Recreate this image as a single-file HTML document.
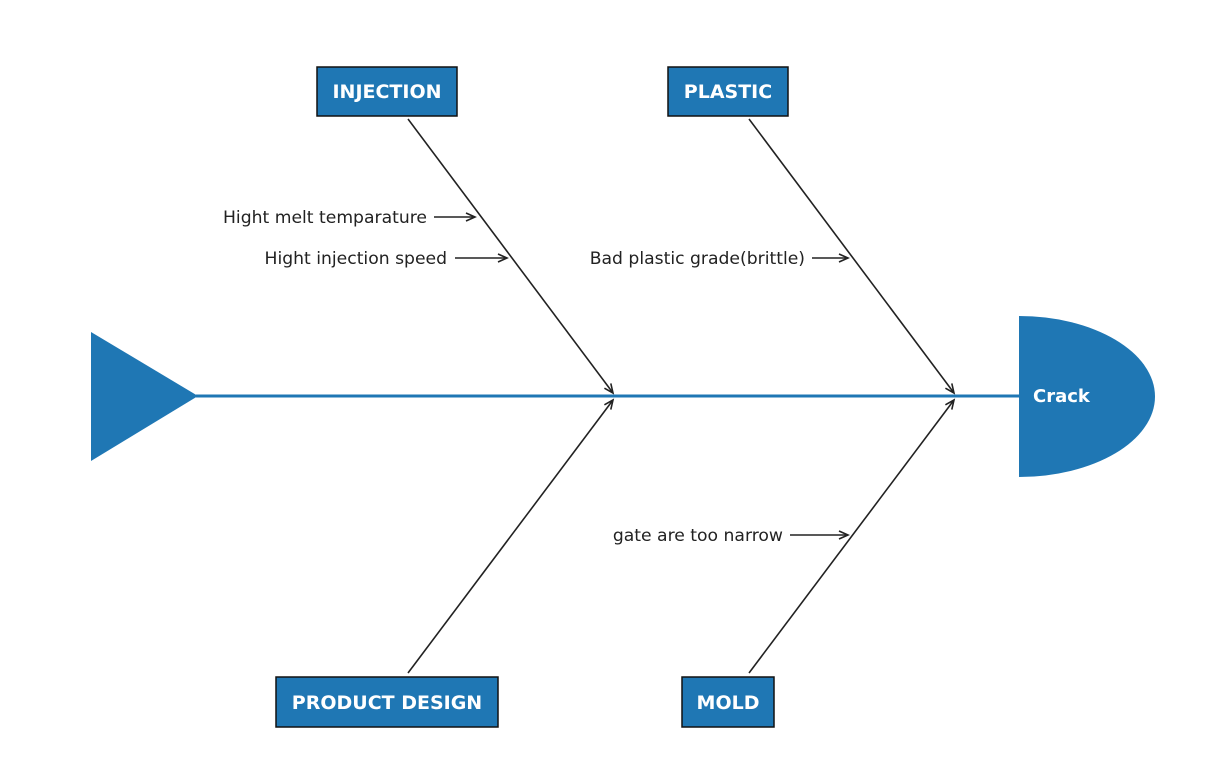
<!DOCTYPE html>
<html><head><meta charset="utf-8"><style>
html,body{margin:0;padding:0;background:#fff;width:1220px;height:778px;overflow:hidden}
svg{display:block}
text{font-family:"DejaVu Sans","Liberation Sans",sans-serif}
.lbl{font-size:17.2px;fill:#222}
.box{fill:#1f77b4;stroke:#111;stroke-width:1.5}
.bt{font-size:19px;font-weight:bold;fill:#fff;text-anchor:middle}
.ln{stroke:#222;stroke-width:1.6;fill:none}
</style></head><body>
<svg width="1220" height="778" viewBox="0 0 1220 778">
<defs>
<marker id="a" markerWidth="12" markerHeight="12" refX="10" refY="5" orient="auto" markerUnits="userSpaceOnUse">
<path d="M1,1 L10,5 L1,9" fill="none" stroke="#222" stroke-width="1.6"/>
</marker>
</defs>
<line x1="196" y1="396" x2="1020" y2="396" stroke="#1f77b4" stroke-width="3"/>
<polygon points="91,332 91,461 198,396" fill="#1f77b4"/>
<path d="M1019,316 A136,80.5 0 0 1 1155,396.5 A136,80.5 0 0 1 1019,477 Z" fill="#1f77b4"/>
<text x="1033" y="402" style="font-size:18px;font-weight:bold;fill:#fff">Crack</text>

<line class="ln" x1="408" y1="119" x2="613" y2="393" marker-end="url(#a)"/>
<line class="ln" x1="749" y1="119" x2="954" y2="393" marker-end="url(#a)"/>
<line class="ln" x1="408" y1="673" x2="613" y2="400" marker-end="url(#a)"/>
<line class="ln" x1="749" y1="673" x2="954" y2="400" marker-end="url(#a)"/>

<rect class="box" x="317" y="67" width="140" height="49"/>
<text class="bt" x="387" y="98">INJECTION</text>
<rect class="box" x="668" y="67" width="120" height="49"/>
<text class="bt" x="728" y="98">PLASTIC</text>
<rect class="box" x="276" y="677" width="222" height="50"/>
<text class="bt" x="387" y="709">PRODUCT DESIGN</text>
<rect class="box" x="682" y="677" width="92" height="50"/>
<text class="bt" x="728" y="709">MOLD</text>

<text class="lbl" x="427" y="223" text-anchor="end">Hight melt temparature</text>
<line class="ln" x1="434" y1="217" x2="475" y2="217" marker-end="url(#a)"/>
<text class="lbl" x="447" y="264" text-anchor="end">Hight injection speed</text>
<line class="ln" x1="455" y1="258" x2="507" y2="258" marker-end="url(#a)"/>
<text class="lbl" x="805" y="264" text-anchor="end">Bad plastic grade(brittle)</text>
<line class="ln" x1="812" y1="258" x2="848" y2="258" marker-end="url(#a)"/>
<text class="lbl" x="783" y="541" text-anchor="end">gate are too narrow</text>
<line class="ln" x1="790" y1="535" x2="848" y2="535" marker-end="url(#a)"/>
</svg>
</body></html>
